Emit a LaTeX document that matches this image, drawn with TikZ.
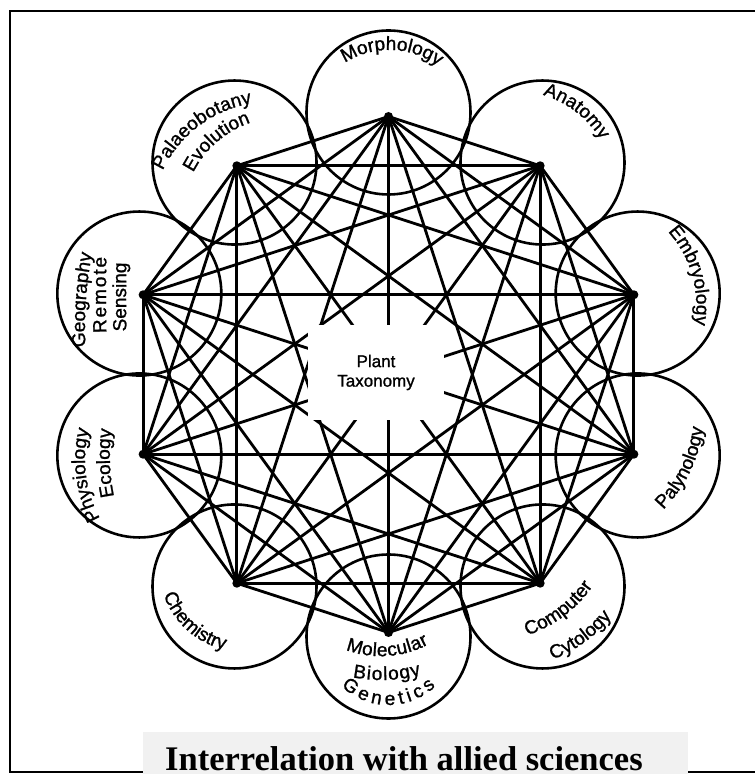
\documentclass[tikz,border=0pt]{standalone}
\usepackage{fontspec}
\setmainfont{Liberation Sans}
\newfontfamily\lblfam{Liberation Sans}[FakeBold=1.2]
\newfontfamily\titlefont{Liberation Serif}
\usetikzlibrary{decorations.text,calc}
\definecolor{titlegrey}{RGB}{241,241,241}
\newcommand\lblf{\lblfam\fontsize{19}{22}\selectfont}
% x y(image) alpha rho s text
\newcommand\arclbl[6]{%
 \pgfmathsetmacro\mycA{#3+90*(#5)}%
 \pgfmathsetmacro\mycS{#3-90*(#5)-(#5)*5157/#4}%
 \pgfmathsetmacro\mycE{#3-90*(#5)+(#5)*5157/#4}%
 \path[decorate,decoration={text along path,text align=center,text={|\lblf|#6}}]
  ($(#1,774-#2)+(\mycA:#4)+(\mycS:#4)$) arc[start angle=\mycS,end angle=\mycE,radius=#4];}
% x y(image) alpha rho s length text
\newcommand\fitlbl[7]{%
 \pgfmathsetmacro\mycA{#3+90*(#5)}%
 \pgfmathsetmacro\mycS{#3-90*(#5)-(#5)*28.6479*#6/#4}%
 \pgfmathsetmacro\mycE{#3-90*(#5)+(#5)*28.6479*#6/#4}%
 \path[decorate,decoration={text along path,text align={fit to path},text={|\lblf|#7}}]
  ($(#1,774-#2)+(\mycA:#4)+(\mycS:#4)$) arc[start angle=\mycS,end angle=\mycE,radius=#4];}
\begin{document}
\begin{tikzpicture}[x=1pt,y=1pt,
  chord/.style={line width=2.8pt},
  bubble/.style={circle,draw,line width=2.6pt,minimum size=164pt,inner sep=0pt},
  hub/.style={circle,fill,inner sep=0pt,minimum size=9pt},
  frameline/.style={line width=2pt}]
\useasboundingbox (0,0) rectangle (755,774);
% frame
\draw[frameline] (755,763) -- (10,763) -- (10,2) -- (755,2);
% title box
\fill[titlegrey] (143,0) rectangle (688,42);
\node[anchor=base west,inner sep=0pt,font=\titlefont\bfseries\fontsize{34.5}{34.5}\selectfont] (title) at (165,3.5) {Interrelation with allied sciences};
% geometry
\coordinate (C) at (388.5,399.5);
\foreach \i in {0,...,9}{
  \coordinate (v\i) at ($(C)+({90-36*\i}:258)$);
}
\foreach \i in {0,...,8}{
  \pgfmathtruncatemacro\nx{\i+1}
  \foreach \j in {\nx,...,9}{ \draw[chord] (v\i) -- (v\j); }
}
\foreach \i in {0,...,9}{
  \node[bubble] (c\i) at ($(C)+({90-36*\i}:262)$) {};
  \node[hub] (h\i) at (v\i) {};
}
% centre
\node[fill=white,minimum width=136pt,minimum height=95pt,inner sep=0pt,align=center,
  font=\lblfam\fontsize{17}{19.5}\selectfont] (pt) at (376,401.5) {Plant\\Taxonomy};
% labels
\arclbl{392}{50}{-2}{82}{-1}{Morphology}
\arclbl{576}{112}{-38}{100}{-1}{Anatomy}
\arclbl{692}{275}{-74}{110}{-1}{Embryology}
\arclbl{690}{472}{64}{140}{1}{Palynology}
\arclbl{564}{616}{37}{130}{1}{Computer}
\arclbl{585}{642}{36}{140}{1}{Cytology}
\fitlbl{388}{656}{4}{100}{1}{86}{Molecular}
\fitlbl{387}{680}{2}{150}{1}{69}{Biology}
\fitlbl{388.5}{705}{0}{68.5}{1}{104}{Genetics}
\arclbl{187}{630}{-42}{85}{1}{Chemistry}
\arclbl{86}{475}{97}{120}{-1}{Physiology}
\arclbl{110}{463}{92}{200}{-1}{Ecology}
\arclbl{86}{300}{86}{400}{-1}{Geography}
\fitlbl{106}{295}{90}{2000}{-1}{76}{Remote}
\arclbl{126}{297}{90}{2000}{-1}{Sensing}
\arclbl{199}{126}{37}{120}{-1}{Palaeobotany}
\arclbl{217}{142}{41}{100}{-1}{Evolution}
\end{tikzpicture}
\end{document}
